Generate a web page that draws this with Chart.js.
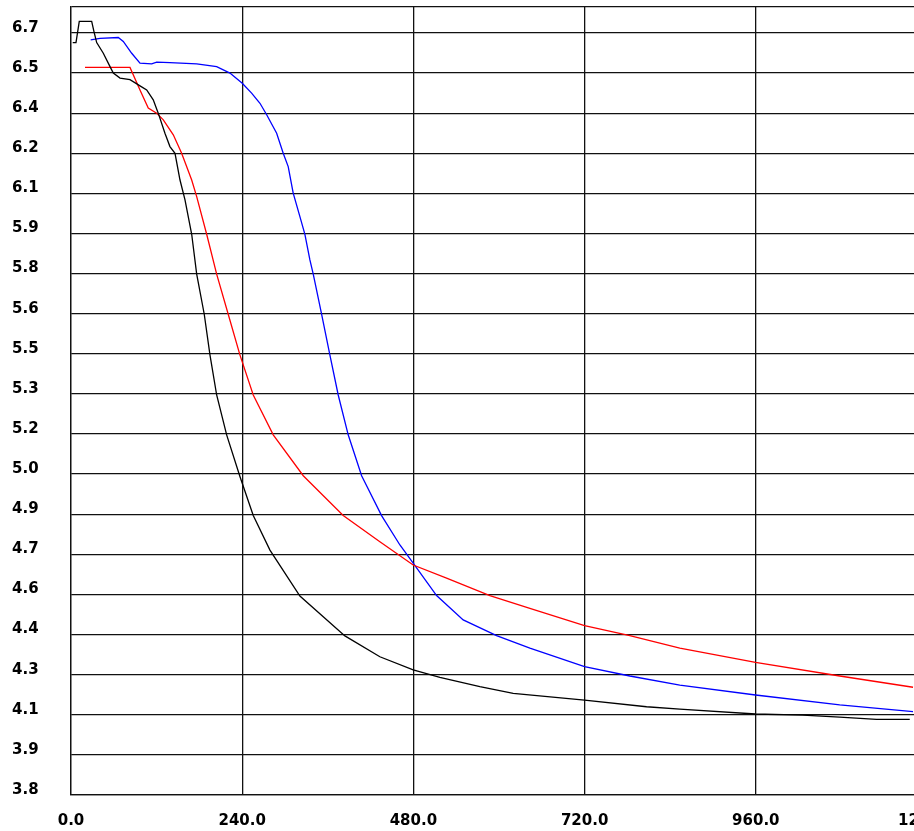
<!DOCTYPE html>
<html>
<head>
<meta charset="utf-8">
<script src="https://cdn.jsdelivr.net/npm/chart.js@4.4.1/dist/chart.umd.min.js"></script>
<style>
  html, body { margin: 0; padding: 0; background: #ffffff; overflow: hidden; }
  #wrap { position: absolute; left: 0; top: 0; width: 960px; height: 831px; }
  canvas { display: block; }
</style>
</head>
<body>
<div id="wrap"><canvas id="chart" width="960" height="831"></canvas></div>
<script>
// Time axis ticks
const xTickValues = [0, 240, 480, 720, 960, 1200];
const xTickLabels = ['0.0', '240.0', '480.0', '720.0', '960.0', '1200.0'];

// Value axis ticks (grid every 0.15, labels shown with one decimal)
const yTickValues = [3.80, 3.95, 4.10, 4.25, 4.40, 4.55, 4.70, 4.85, 5.00, 5.15,
                     5.30, 5.45, 5.60, 5.75, 5.90, 6.05, 6.20, 6.35, 6.50, 6.65];
const yTickLabels = ['3.8', '3.9', '4.1', '4.3', '4.4', '4.6', '4.7', '4.9', '5.0', '5.2',
                     '5.3', '5.5', '5.6', '5.8', '5.9', '6.1', '6.2', '6.4', '6.5', '6.7'];
const yMin = 3.80;
const yMax = 6.747;

// Black series
const blackTime = [2.4, 7.0, 11.6, 29.0, 32.2, 36.0, 45.3, 54.7, 59.3, 68.7, 82.7, 96.7, 106.1,
  115.3, 122.3, 131.7, 138.7, 145.8, 152.8, 159.8, 169.2, 176.2, 186.8, 194.8, 204.2, 218.2,
  236.8, 255.5, 278.9, 320.9, 384.0, 433.0, 479.7, 517.1, 573.2, 619.9, 719.9, 806.8, 853.5,
  959.6, 1025.9, 1077.7, 1129.2, 1175.8];
const blackValue = [6.614, 6.614, 6.693, 6.693, 6.655, 6.614, 6.574, 6.524, 6.500, 6.481, 6.475,
  6.452, 6.437, 6.400, 6.350, 6.275, 6.225, 6.200, 6.100, 6.026, 5.897, 5.748, 5.598, 5.446,
  5.296, 5.147, 4.991, 4.845, 4.716, 4.544, 4.395, 4.317, 4.268, 4.240, 4.205, 4.180, 4.155,
  4.130, 4.121, 4.103, 4.099, 4.091, 4.083, 4.083];

// Red series
const redTime = [19.6, 82.7, 96.7, 108.3, 120.1, 129.4, 143.4, 155.1, 169.2, 176.2, 190.2, 204.2,
  220.4, 236.8, 255.5, 283.5, 325.6, 381.6, 433.0, 479.7, 526.5, 587.2, 643.3, 719.9, 783.4,
  853.5, 959.6, 1077.7, 1180.4];
const redValue = [6.521, 6.521, 6.437, 6.369, 6.350, 6.325, 6.269, 6.200, 6.100, 6.038, 5.897,
  5.748, 5.598, 5.446, 5.296, 5.147, 4.994, 4.845, 4.747, 4.660, 4.611, 4.546, 4.498, 4.433,
  4.396, 4.349, 4.296, 4.245, 4.203];

// Blue series
const blueTime = [27.6, 40.6, 66.3, 73.3, 85.1, 96.7, 113.1, 120.1, 138.7, 176.2, 204.2, 222.8,
  240.1, 253.2, 264.9, 274.3, 288.3, 297.5, 304.5, 311.5, 320.9, 327.9, 334.9, 339.6, 351.3,
  362.9, 374.6, 388.6, 407.4, 435.4, 461.1, 479.7, 512.5, 549.8, 596.6, 643.3, 719.9, 783.4,
  853.5, 959.6, 1077.7, 1180.4];
const blueValue = [6.624, 6.630, 6.633, 6.618, 6.574, 6.537, 6.534, 6.541, 6.539, 6.534, 6.524,
  6.500, 6.462, 6.425, 6.387, 6.344, 6.275, 6.200, 6.150, 6.051, 5.963, 5.897, 5.801, 5.748,
  5.598, 5.446, 5.296, 5.147, 4.994, 4.845, 4.735, 4.667, 4.546, 4.455, 4.396, 4.349, 4.280,
  4.245, 4.211, 4.174, 4.137, 4.112];

const toPoints = (xs, ys) => xs.map((x, i) => ({ x: x, y: ys[i] }));

const series = (label, xs, ys, color) => ({
  label: label,
  data: toPoints(xs, ys),
  borderColor: color,
  backgroundColor: color,
  borderWidth: 1.3,
  pointRadius: 0,
  pointHoverRadius: 0,
  tension: 0,
  fill: false
});

const tickFont = { family: 'DejaVu Sans', size: 15, weight: 'bold' };
const gridColor = '#111111';
const gridWidth = 1.3;

new Chart(document.getElementById('chart'), {
  type: 'line',
  data: {
    datasets: [
      series('black', blackTime, blackValue, '#000000'),
      series('red', redTime, redValue, '#ff0000'),
      series('blue', blueTime, blueValue, '#0000ff')
    ]
  },
  options: {
    responsive: false,
    animation: false,
    events: [],
    layout: { padding: { left: 12, top: 7, right: 33, bottom: 0 } },
    plugins: {
      legend: { display: false },
      tooltip: { enabled: false },
      title: { display: false }
    },
    scales: {
      x: {
        type: 'linear',
        position: 'bottom',
        min: 0,
        max: 1200,
        afterBuildTicks: (scale) => { scale.ticks = xTickValues.map(v => ({ value: v })); },
        afterFit: (scale) => {
          scale.height = 36;
          scale.paddingLeft = 0;
          scale.paddingRight = 0;
        },
        ticks: {
          autoSkip: false,
          maxRotation: 0,
          padding: 17,
          color: '#000000',
          font: tickFont,
          callback: (value, index) => xTickLabels[index]
        },
        grid: { color: gridColor, lineWidth: gridWidth, drawTicks: false, tickLength: 0 },
        border: { display: true, color: gridColor, width: gridWidth }
      },
      y: {
        type: 'linear',
        position: 'left',
        min: yMin,
        max: yMax,
        afterBuildTicks: (scale) => {
          scale.ticks = yTickValues.map(v => ({ value: v })).concat([{ value: yMax }]);
        },
        afterFit: (scale) => {
          scale.width = 59;
          scale.paddingTop = 0;
          scale.paddingBottom = 0;
        },
        ticks: {
          autoSkip: false,
          crossAlign: 'far',
          labelOffset: -5,
          padding: 0,
          color: '#000000',
          font: tickFont,
          callback: (value, index) => (index < yTickLabels.length ? yTickLabels[index] : '')
        },
        grid: { color: gridColor, lineWidth: gridWidth, drawTicks: false, tickLength: 0 },
        border: { display: true, color: gridColor, width: gridWidth }
      }
    }
  }
});
</script>
</body>
</html>
